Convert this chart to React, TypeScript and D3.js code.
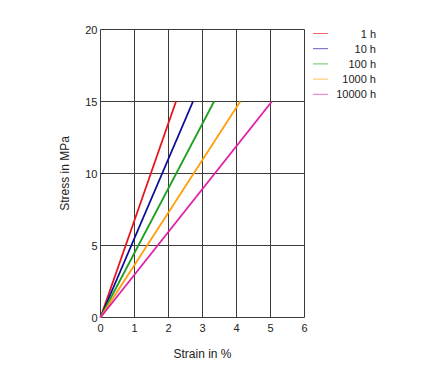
import React, { useRef, useEffect } from 'react';
import * as d3 from 'd3';

// Creep curves: strain (%) reached at 15 MPa, lines start at the origin
const series = ['1 h', '10 h', '100 h', '1000 h', '10000 h'];
const strainAt15 = [2.22, 2.72, 3.34, 4.11, 5.04];
const colors = ['#e8141e', '#0a0a96', '#1ea01e', '#ff9e0a', '#e01ea8'];
const xTicks = [0, 1, 2, 3, 4, 5, 6];
const yTicks = [0, 5, 10, 15, 20];

const App = () => {
  const svgRef = useRef<SVGSVGElement>(null);

  useEffect(() => {
    const svg = d3.select(svgRef.current);
    svg.selectAll('*').remove();

    const left = 100.5;
    const right = 304.5;
    const top = 29.5;
    const bottom = 317.5;

    const x = d3.scaleLinear().domain([0, 6]).range([left, right]);
    const y = d3.scaleLinear().domain([0, 20]).range([bottom, top]);

    const font = 'Liberation Sans, Arial, sans-serif';

    // Grid
    const grid = svg.append('g').attr('stroke', '#3a3a3a').attr('stroke-width', 1);
    xTicks.forEach(t => {
      grid.append('line').attr('x1', x(t)).attr('x2', x(t)).attr('y1', top).attr('y2', bottom);
    });
    yTicks.forEach(t => {
      grid.append('line').attr('x1', left).attr('x2', right).attr('y1', y(t)).attr('y2', y(t));
    });

    // Tick labels
    svg.append('g')
      .selectAll('text')
      .data(xTicks)
      .enter()
      .append('text')
      .attr('x', d => x(d))
      .attr('y', bottom + 14)
      .attr('text-anchor', 'middle')
      .attr('font-family', font)
      .attr('font-size', 11)
      .attr('fill', '#222')
      .text(d => d);

    svg.append('g')
      .selectAll('text')
      .data(yTicks)
      .enter()
      .append('text')
      .attr('x', left - 3)
      .attr('y', d => y(d) + 4)
      .attr('text-anchor', 'end')
      .attr('font-family', font)
      .attr('font-size', 11)
      .attr('fill', '#222')
      .text(d => d);

    // Data lines
    const line = d3.line<[number, number]>().x(d => x(d[0])).y(d => y(d[1]));
    series.forEach((s, i) => {
      svg.append('path')
        .attr('d', line([[0, 0], [strainAt15[i], 15]]))
        .attr('fill', 'none')
        .attr('stroke', colors[i])
        .attr('stroke-width', 1.8);
    });

    // Legend
    const legend = svg.append('g');
    series.forEach((s, i) => {
      const ly = 33.5 + i * 15.2;
      legend.append('line')
        .attr('x1', 313).attr('x2', 328)
        .attr('y1', ly).attr('y2', ly)
        .attr('stroke', colors[i])
        .attr('stroke-opacity', 0.65)
        .attr('stroke-width', 1);
      legend.append('text')
        .attr('x', 376)
        .attr('y', ly + 4)
        .attr('text-anchor', 'end')
        .attr('font-family', font)
        .attr('font-size', 11)
        .attr('fill', '#222')
        .text(s);
    });

    // Axis titles
    svg.append('text')
      .attr('x', (left + right) / 2)
      .attr('y', 358)
      .attr('text-anchor', 'middle')
      .attr('font-family', font)
      .attr('font-size', 12)
      .attr('fill', '#222')
      .text('Strain in %');

    svg.append('text')
      .attr('transform', `translate(69, ${(top + bottom) / 2}) rotate(-90)`)
      .attr('text-anchor', 'middle')
      .attr('font-family', font)
      .attr('font-size', 12)
      .attr('fill', '#222')
      .text('Stress in MPa');
  }, []);

  return (
    <svg
      ref={svgRef}
      width={435}
      height={367}
      style={{ position: 'absolute', left: 0, top: 0, background: '#fff' }}
    />
  );
};

export default App;
